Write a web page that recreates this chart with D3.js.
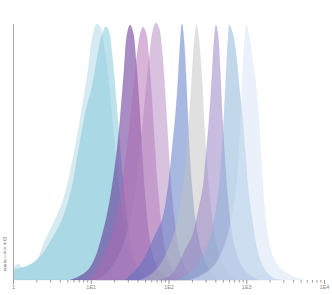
<!DOCTYPE html>
<html>
<head>
<meta charset="utf-8">
<script src="https://cdn.jsdelivr.net/npm/d3@7"></script>
<style>
  body { margin: 0; background: #fff; }
  svg { display: block; }
  text { font-family: "Liberation Sans", Arial, sans-serif; }
</style>
</head>
<body>
<svg width="332" height="295"></svg>
<script>
// each series: [log10(x), relative density]
var s1 = [[0,0.047],[0.077,0.063],[0.116,0.047],[0.219,0.059],[0.322,0.086],[0.386,0.137],[0.514,0.219],[0.630,0.30],[0.733,0.42],[0.862,0.625],[0.965,0.82],[1.016,0.94],[1.077,1.0],[1.119,0.99],[1.170,0.92],[1.222,0.80],[1.273,0.64],[1.325,0.47],[1.389,0.29],[1.466,0.14],[1.569,0.047],[1.698,0]];
var s2 = [[0,0.039],[0.090,0.047],[0.257,0.066],[0.386,0.105],[0.514,0.168],[0.630,0.234],[0.759,0.363],[0.836,0.496],[0.939,0.664],[1.016,0.754],[1.093,0.887],[1.145,0.957],[1.196,0.99],[1.235,0.97],[1.273,0.887],[1.350,0.625],[1.402,0.43],[1.453,0.273],[1.518,0.137],[1.608,0.047],[1.762,0]];
var s3 = [[0.733,0],[0.836,0.012],[0.965,0.039],[1.055,0.086],[1.119,0.145],[1.209,0.254],[1.273,0.363],[1.338,0.51],[1.376,0.625],[1.428,0.82],[1.466,0.957],[1.505,0.996],[1.543,0.97],[1.582,0.86],[1.621,0.70],[1.659,0.51],[1.698,0.33],[1.749,0.176],[1.814,0.078],[1.916,0.023],[2.084,0]];
var s4 = [[0.926,0],[1.016,0.016],[1.119,0.07],[1.222,0.137],[1.312,0.234],[1.402,0.371],[1.479,0.547],[1.543,0.723],[1.595,0.879],[1.633,0.957],[1.672,0.988],[1.711,0.965],[1.749,0.86],[1.788,0.70],[1.826,0.51],[1.865,0.35],[1.916,0.195],[1.981,0.086],[2.084,0.027],[2.251,0]];
var s5 = [[1.055,0],[1.183,0.02],[1.312,0.07],[1.415,0.137],[1.505,0.234],[1.582,0.371],[1.646,0.547],[1.711,0.742],[1.762,0.898],[1.801,0.977],[1.839,1.004],[1.878,0.984],[1.916,0.898],[1.955,0.742],[1.994,0.547],[2.032,0.371],[2.084,0.215],[2.148,0.098],[2.251,0.031],[2.405,0]];
var s6 = [[1.441,0],[1.543,0.027],[1.633,0.059],[1.723,0.105],[1.826,0.176],[1.916,0.234],[1.994,0.363],[2.045,0.51],[2.084,0.625],[2.122,0.78],[2.148,0.918],[2.174,1.0],[2.199,0.937],[2.225,0.80],[2.251,0.625],[2.277,0.469],[2.302,0.363],[2.354,0.215],[2.431,0.105],[2.521,0.039],[2.637,0]];
var s7 = [[1.633,0],[1.762,0.02],[1.891,0.059],[1.994,0.117],[2.084,0.195],[2.161,0.313],[2.225,0.469],[2.264,0.625],[2.302,0.80],[2.328,0.918],[2.360,0.996],[2.392,0.937],[2.431,0.78],[2.457,0.625],[2.495,0.449],[2.534,0.313],[2.585,0.188],[2.650,0.098],[2.740,0.039],[2.868,0]];
var s8 = [[1.891,0],[2.019,0.016],[2.109,0.051],[2.212,0.117],[2.302,0.168],[2.379,0.266],[2.444,0.363],[2.482,0.488],[2.521,0.625],[2.559,0.80],[2.585,0.93],[2.611,0.996],[2.637,0.957],[2.662,0.84],[2.688,0.664],[2.727,0.469],[2.765,0.313],[2.817,0.176],[2.894,0.086],[2.997,0.031],[3.151,0]];
var s9 = [[2.084,0],[2.212,0.016],[2.341,0.047],[2.444,0.098],[2.534,0.164],[2.598,0.254],[2.650,0.363],[2.688,0.51],[2.714,0.645],[2.740,0.80],[2.765,0.937],[2.785,0.996],[2.830,0.957],[2.868,0.887],[2.911,0.754],[2.954,0.625],[2.990,0.49],[3.022,0.363],[3.075,0.24],[3.134,0.129],[3.220,0.05],[3.344,0.008],[3.460,0]];
var s10 = [[2.277,0],[2.405,0.016],[2.559,0.047],[2.662,0.094],[2.752,0.164],[2.830,0.273],[2.881,0.39],[2.907,0.51],[2.926,0.625],[2.952,0.80],[2.978,0.937],[3.003,0.996],[3.035,0.957],[3.074,0.879],[3.125,0.762],[3.164,0.625],[3.190,0.488],[3.215,0.363],[3.254,0.227],[3.306,0.129],[3.383,0.066],[3.498,0.031],[3.653,0.008],[3.756,0]];

var series = [s1, s2, s3, s4, s5, s6, s7, s8, s9, s10];
var colors = ["#add5e3", "#7dc5d9", "#531987", "#af69b1", "#b185c1", "#5171c1", "#c1c1c1", "#9179c1", "#85b1d5", "#d5e3f5"];
var xTicks = [1, 10, 100, 1000, 10000];
var yLabel = "Densidad";

var svg = d3.select("svg");

var x = d3.scaleLog().domain([1, 10000]).range([13, 324]);
var y = d3.scaleLinear().domain([0, 1]).range([280, 24]);

var area = d3.area()
    .curve(d3.curveCatmullRom.alpha(0.5))
    .x(function(d) { return x(Math.pow(10, d[0])); })
    .y0(y(0))
    .y1(function(d) { return Math.min(y(0), y(d[1])); });

svg.selectAll("path.dens")
    .data(series)
    .enter().append("path")
    .attr("class", "dens")
    .attr("d", area)
    .attr("fill", function(d, i) { return colors[i]; })
    .attr("fill-opacity", 0.5)
    .attr("stroke", function(d, i) { return colors[i]; })
    .attr("stroke-opacity", 0.25)
    .attr("stroke-width", 0.5);

// x axis, log ticks
var allTicks = x.ticks();
var xAxis = svg.append("g")
    .attr("transform", "translate(0,280)")
    .call(d3.axisBottom(x)
        .tickValues(allTicks)
        .tickSize(2.5)
        .tickFormat(function(d) {
            if (xTicks.indexOf(d) < 0) return "";
            var k = Math.round(Math.log10(d));
            return k === 0 ? "1" : "1E" + k;
        }));
xAxis.select(".domain").remove();
xAxis.selectAll(".tick line").attr("stroke", "#999")
    .attr("y2", function(d) { return xTicks.indexOf(d) < 0 ? 2.5 : 4; });
xAxis.selectAll(".tick text")
    .attr("y", 5)
    .attr("fill", "#888")
    .style("font-size", "5.5px");

// y axis line
svg.append("line")
    .attr("x1", 13.5).attr("x2", 13.5)
    .attr("y1", 24).attr("y2", 280)
    .attr("stroke", "#aaa");

// stacked letters for the y label
svg.selectAll("text.ylab")
    .data(yLabel.split(""))
    .enter().append("text")
    .attr("class", "ylab")
    .attr("x", 5)
    .attr("y", function(d, i) { return 241 + i * 4.3; })
    .attr("text-anchor", "middle")
    .attr("fill", "#666")
    .style("font-size", "4.6px")
    .text(function(d) { return d; });
</script>
</body>
</html>
